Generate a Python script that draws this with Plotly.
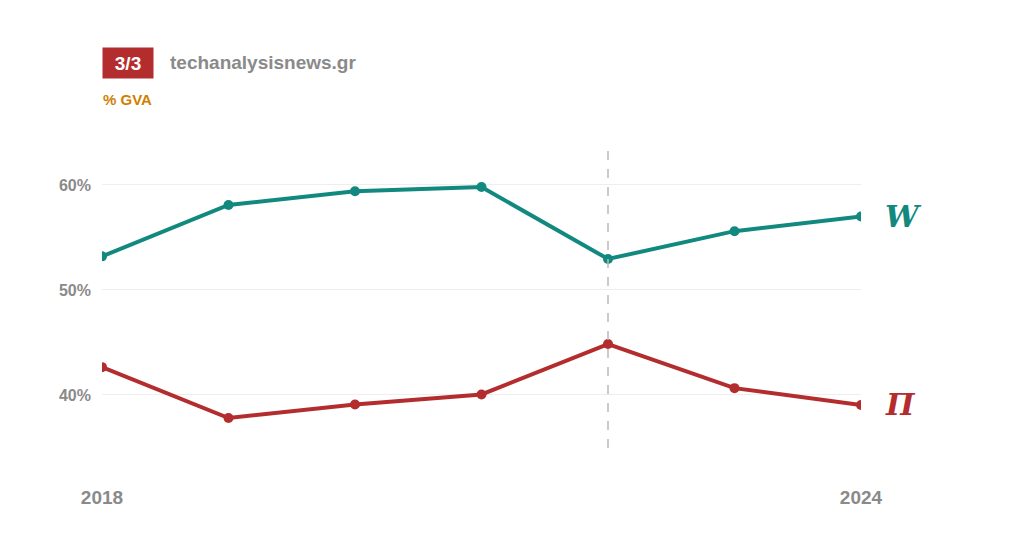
import plotly.graph_objects as go

years = [2018, 2019, 2020, 2021, 2022, 2023, 2024]
wages = [53.2, 58.1, 59.4, 59.8, 52.95, 55.6, 57.0]
profits = [42.65, 37.8, 39.1, 40.05, 44.85, 40.65, 39.05]
teal = "#12897f"
red = "#b32d2e"

# page has an 8px body margin, so shift everything
W, H = 1024, 538
l, r, t, b = 94, 171, 142, 98
pw, ph = W - l - r, H - t - b
def px(x): return (x - 8 - l) / pw
def py(y): return (H - b - (y - 8)) / ph

fig = go.Figure()
fig.add_trace(go.Scatter(x=years, y=wages, mode="lines+markers",
                         line=dict(color=teal, width=4), marker=dict(size=10, color=teal)))
fig.add_trace(go.Scatter(x=years, y=profits, mode="lines+markers",
                         line=dict(color=red, width=4), marker=dict(size=10, color=red)))

fig.add_shape(type="line", x0=2022, x1=2022, y0=0, y1=1, yref="paper",
              line=dict(color="#bbbbbb", width=1.5, dash="dash"))

fig.add_annotation(x=2024, y=wages[-1], text="<b><i>W</i></b>", showarrow=False,
                   xanchor="left", xshift=22, font=dict(family="DejaVu Serif", size=30, color=teal))
fig.add_annotation(x=2024, y=profits[-1], text="<b><i>Π</i></b>", showarrow=False,
                   xanchor="left", xshift=22, font=dict(family="DejaVu Serif", size=30, color=red))

fig.add_annotation(x=px(102), y=py(63), xref="paper", yref="paper", xanchor="left", yanchor="middle",
                   text="<b>3/3</b>", showarrow=False,
                   font=dict(color="white", size=19, family="Arial"), bgcolor=red,
                   width=44, height=24, borderpad=3)
fig.add_annotation(x=px(168), y=py(62), xref="paper", yref="paper", xanchor="left", yanchor="middle",
                   text="<b>techanalysisnews.gr</b>", showarrow=False,
                   font=dict(color="#8a8a8a", size=19, family="Arial"))
fig.add_annotation(x=px(101), y=py(100), xref="paper", yref="paper", xanchor="left", yanchor="middle",
                   text="<b>% GVA</b>", showarrow=False,
                   font=dict(color="#d08000", size=15, family="Arial"))

fig.update_layout(
    width=W, height=H, margin=dict(l=l, r=r, t=t, b=b),
    plot_bgcolor="white", paper_bgcolor="white", showlegend=False,
    font=dict(family="Arial", color="#8a8a8a"),
)
fig.update_xaxes(range=[2018, 2024], tickvals=[2018, 2024], ticktext=["<b>2018</b>", "<b>2024</b>"],
                 showgrid=False, zeroline=False, showline=False, ticklabelstandoff=36,
                 tickfont=dict(size=19, color="#8a8a8a"))
fig.update_yaxes(range=[34.95, 63.33], tickvals=[40, 50, 60],
                 ticktext=["<b>40%</b>", "<b>50%</b>", "<b>60%</b>"],
                 showgrid=True, gridcolor="#eeeeee", zeroline=False, ticklabelstandoff=10,
                 tickfont=dict(size=16, color="#8a8a8a"))

fig.write_html("out.html")
